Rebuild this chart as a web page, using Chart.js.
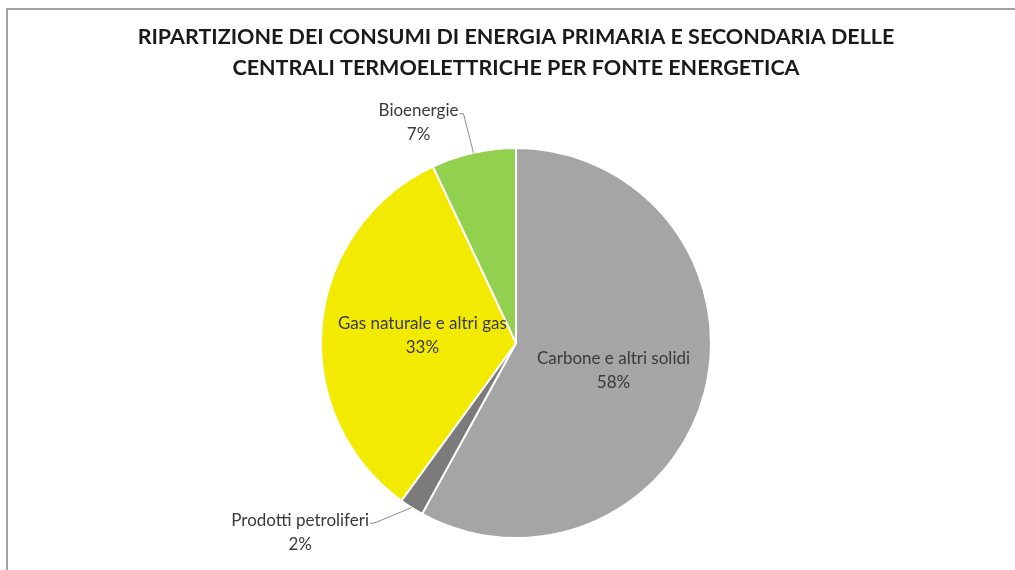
<!DOCTYPE html>
<html>
<head>
<meta charset="utf-8">
<script src="https://cdn.jsdelivr.net/npm/chart.js@4"></script>
<style>
  html, body { margin: 0; padding: 0; background: #fff; }
  #wrap { position: relative; width: 1015px; height: 570px; overflow: hidden; }
  #frame { position: absolute; left: 6px; top: 8px; width: 1100px; height: 700px;
           border-top: 2px solid #a3a3a3; border-left: 2px solid #a3a3a3; }
  canvas { position: absolute; left: 0; top: 0; }
</style>
</head>
<body>
<div id="wrap">
  <div id="frame"></div>
  <canvas id="pie" width="1015" height="570"></canvas>
</div>
<script>
// data
const titleLines = [
    'RIPARTIZIONE DEI CONSUMI DI ENERGIA PRIMARIA E SECONDARIA DELLE',
    'CENTRALI TERMOELETTRICHE PER FONTE ENERGETICA'
];
const sources = ['Carbone e altri solidi', 'Prodotti petroliferi', 'Gas naturale e altri gas', 'Bioenergie'];
const shares = [58, 2, 33, 7];
const sliceColors = ['#a5a5a5', '#7b7b7b', '#f2ea00', '#92d050'];

// where each label sits, in pie radii from the centre; outside ones get a leader line
const labelSpots = [
    { dx: 0.50, dy: 0.14, outside: false },
    { dx: -1.107, dy: 0.97, outside: true },
    { dx: -0.48, dy: -0.04, outside: false },
    { dx: -0.50, dy: -1.13, outside: true }
];

const labelFont = '17px Lato, "Open Sans", sans-serif';

const sliceLabels = {
    id: 'sliceLabels',
    afterDatasetsDraw(chart) {
        const ctx = chart.ctx;
        const arcs = chart.getDatasetMeta(0).data;
        const total = shares.reduce((a, b) => a + b, 0);
        ctx.save();
        ctx.font = labelFont;
        ctx.textAlign = 'center';
        ctx.textBaseline = 'middle';
        arcs.forEach((arc, i) => {
            const r = arc.outerRadius;
            const cx = arc.x, cy = arc.y;
            const spot = labelSpots[i];
            const lx = cx + spot.dx * r;
            const ly = cy + spot.dy * r;
            const pct = Math.round(shares[i] / total * 100) + '%';
            const lh = 24;
            ctx.fillStyle = '#3a3a3a';
            ctx.fillText(sources[i], lx, ly - lh / 2);
            ctx.fillText(pct, lx, ly + lh / 2);

            if (spot.outside) {
                const mid = (arc.startAngle + arc.endAngle) / 2;
                const ex = cx + Math.cos(mid) * r;
                const ey = cy + Math.sin(mid) * r;
                const w = ctx.measureText(sources[i]).width;
                const sx = lx + w / 2 + 1;
                const sy = ly - lh / 2 + 3;
                ctx.strokeStyle = '#8c8c8c';
                ctx.lineWidth = 1;
                ctx.beginPath();
                ctx.moveTo(sx, sy);
                ctx.lineTo(sx + 4, sy);
                ctx.lineTo(ex, ey);
                ctx.stroke();
            }
        });
        ctx.restore();
    }
};

new Chart(document.getElementById('pie').getContext('2d'), {
    type: 'pie',
    data: {
        labels: sources,
        datasets: [{
            data: shares,
            backgroundColor: sliceColors,
            borderColor: '#ffffff',
            borderWidth: 2
        }]
    },
    options: {
        responsive: false,
        animation: false,
        layout: { padding: { left: 17, right: 0, top: 0, bottom: 31 } },
        plugins: {
            legend: { display: false },
            tooltip: { enabled: false },
            title: {
                display: true,
                text: titleLines,
                color: '#1a1a1a',
                font: { family: 'Lato, "Open Sans", sans-serif', size: 21.5, weight: 'bold', lineHeight: 1.42 },
                padding: { top: 22, bottom: 64 }
            }
        }
    },
    plugins: [sliceLabels]
});
</script>
</body>
</html>
